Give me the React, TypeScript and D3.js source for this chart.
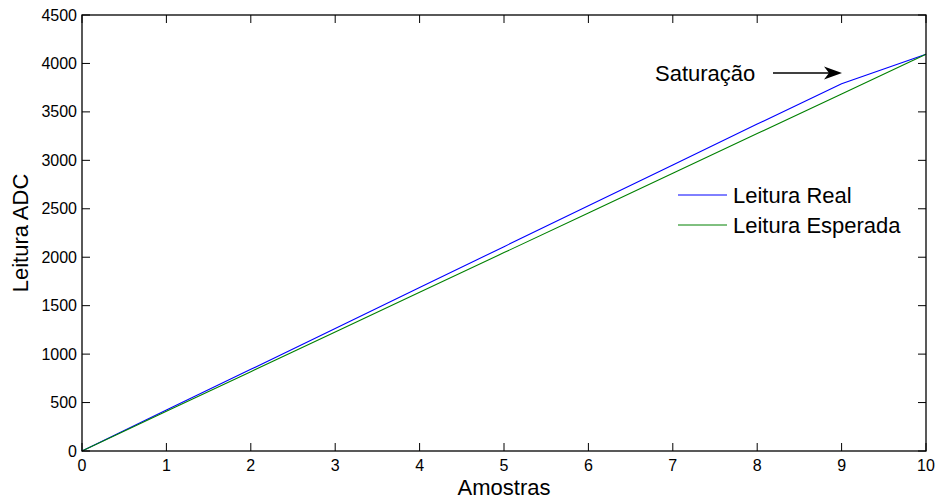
import React from "react";
import * as d3 from "d3";

const samples = [0, 1, 2, 3, 4, 5, 6, 7, 8, 9, 10];
const realReading = [0, 422, 843, 1265, 1687, 2109, 2531, 2952, 3374, 3790, 4095];
const expectedReading = [0, 409.5, 819, 1228.5, 1638, 2047.5, 2457, 2866.5, 3276, 3685.5, 4095];
const xTicks = [0, 1, 2, 3, 4, 5, 6, 7, 8, 9, 10];
const yTicks = [0, 500, 1000, 1500, 2000, 2500, 3000, 3500, 4000, 4500];
const seriesNames = ["Leitura Real", "Leitura Esperada"];
const seriesColors = ["#0000ff", "#008000"];

const W = 937, H = 500;
const L = 82, R = 926, T = 15, B = 451;
const FONT = "'Liberation Sans', Arial, Helvetica, sans-serif";

export default function App() {
  const x = d3.scaleLinear().domain([0, 10]).range([L, R]);
  const y = d3.scaleLinear().domain([0, 4500]).range([B, T]);
  const line = d3.line<number>().x((_, i) => x(samples[i])).y((d) => y(d));
  const series = [realReading, expectedReading];
  const tk = 8;
  return (
    <svg width={W} height={H} style={{ position: "absolute", left: 0, top: 0, background: "#fff" }} fontFamily={FONT}>
      <rect x={0} y={0} width={W} height={H} fill="#fff" />
      {series.map((s, i) => (
        <path key={i} d={line(s) || ""} fill="none" stroke={seriesColors[i]} strokeWidth={1.1} />
      ))}
      <rect x={L} y={T} width={R - L} height={B - T} fill="none" stroke="#000" strokeWidth={1.3} />
      {xTicks.map((t) => (
        <g key={"x" + t}>
          <line x1={x(t)} x2={x(t)} y1={B} y2={B - tk} stroke="#000" strokeWidth={1} />
          <line x1={x(t)} x2={x(t)} y1={T} y2={T + tk} stroke="#000" strokeWidth={1} />
          <text x={x(t)} y={471} textAnchor="middle" fontSize={16} fill="#000">{t}</text>
        </g>
      ))}
      {yTicks.map((t) => (
        <g key={"y" + t}>
          <line x1={L} x2={L + tk} y1={y(t)} y2={y(t)} stroke="#000" strokeWidth={1} />
          <line x1={R} x2={R - tk} y1={y(t)} y2={y(t)} stroke="#000" strokeWidth={1} />
          <text x={77} y={y(t) + 5.5} textAnchor="end" fontSize={16} fill="#000">{t}</text>
        </g>
      ))}
      <text x={(L + R) / 2} y={495} textAnchor="middle" fontSize={22} fill="#000">Amostras</text>
      <text transform={`translate(28,${(T + B) / 2}) rotate(-90)`} textAnchor="middle" fontSize={22} fill="#000">Leitura ADC</text>
      {seriesNames.map((n, i) => (
        <g key={n}>
          <line x1={678} x2={727} y1={195 + i * 30} y2={195 + i * 30} stroke={seriesColors[i]} strokeWidth={1} />
          <text x={733} y={195 + i * 30 + 8} fontSize={22} fill="#000">{n}</text>
        </g>
      ))}
      <text x={655} y={81} fontSize={22} fill="#000">Saturação</text>
      <line x1={773} x2={830} y1={73} y2={73} stroke="#000" strokeWidth={1.3} />
      <path d="M842,73 L824,66.5 L829,73 L824,79.5 Z" fill="#000" />
    </svg>
  );
}
